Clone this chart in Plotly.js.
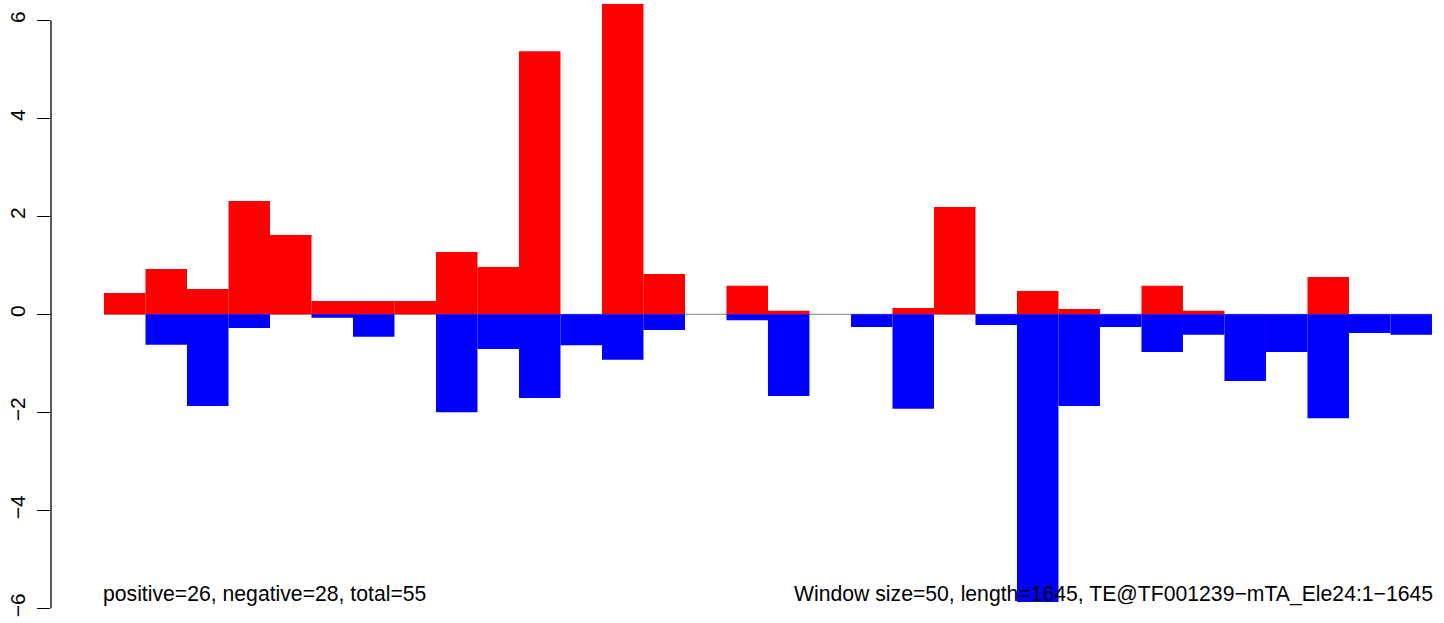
<!DOCTYPE html>
<html>
<head>
<meta charset="utf-8">
<script src="https://cdn.plot.ly/plotly-3.0.1.min.js"></script>
<style>html,body{margin:0;padding:0;background:#fff;}#chart{width:1444px;height:623px;}</style>
</head>
<body>
<div id="chart"></div>
<script>
// Window size and data
const windowSize = 50;
const seqLength = 1645;
const windowIndex = [1,2,3,4,5,6,7,8,9,10,11,12,13,14,15,16,17,18,19,20,21,22,23,24,25,26,27,28,29,30,31,32];
const positiveValues = [0.435, 0.925, 0.516, 2.31, 1.62, 0.27, 0.27, 0.27, 1.27, 0.965, 5.37, 0, 6.33, 0.82, 0, 0.58, 0.07, 0, 0, 0.13, 2.19, 0, 0.475, 0.108, 0, 0.58, 0.07, 0, 0, 0.76, 0, 0];
const negativeValues = [0, -0.62, -1.87, -0.28, 0, -0.07, -0.46, 0, -2.0, -0.71, -1.71, -0.63, -0.93, -0.32, 0, -0.12, -1.67, 0, -0.26, -1.93, 0, -0.22, -5.87, -1.87, -0.26, -0.77, -0.42, -1.36, -0.77, -2.12, -0.38, -0.42];
const yTickValues = [-6, -4, -2, 0, 2, 4, 6];
const yTickLabels = ['\u22126', '\u22124', '\u22122', '0', '2', '4', '6'];
const leftLabel = 'positive=26, negative=28, total=55';
const rightLabel = 'Window size=50, length=1645, TE@TF001239\u2212mTA_Ele24:1\u22121645';

const xCenters = windowIndex.map(i => (i - 0.5) * windowSize);
const xStart = 0, xEnd = windowIndex.length * windowSize;

const yMin = -6.30, yMax = 6.414;
const axisFrac = v => (v - yMin) / (yMax - yMin);

const font = {family: '"Liberation Sans", Arial, Helvetica, sans-serif', size: 21, color: '#000'};
const noteFont = {family: '"Liberation Sans", Arial, Helvetica, sans-serif', size: 21.2, color: '#000'};

const traces = [
  {type: 'bar', x: xCenters, y: positiveValues, width: windowSize,
   marker: {color: '#FF0000', line: {width: 0}}, hoverinfo: 'none'},
  {type: 'bar', x: xCenters, y: negativeValues, width: windowSize,
   marker: {color: '#0000FF', line: {width: 0}}, hoverinfo: 'none'}
];

const layout = {
  width: 1444, height: 623,
  margin: {l: 51, r: 0, t: 0, b: 0, pad: 0},
  paper_bgcolor: '#fff', plot_bgcolor: '#fff',
  showlegend: false,
  barmode: 'overlay',
  font: font,
  xaxis: {range: [-63.86, 1614.5], visible: false, fixedrange: true},
  yaxis: {
    range: [yMin, yMax], showgrid: false, zeroline: false, showline: false,
    tickmode: 'array', tickvals: yTickValues, ticktext: yTickLabels,
    ticks: 'outside', ticklen: 13, tickwidth: 1.3, tickcolor: '#000',
    tickangle: -90, tickfont: font, ticklabelstandoff: 4, fixedrange: true
  },
  shapes: [
    {type: 'line', xref: 'x', yref: 'y', x0: xStart, x1: xEnd, y0: 0, y1: 0,
     line: {color: '#808080', width: 1}, layer: 'below'},
    {type: 'line', xref: 'paper', yref: 'paper', x0: 0, x1: 0,
     y0: axisFrac(-6), y1: axisFrac(6), line: {color: '#000', width: 1.3}}
  ],
  annotations: [
    {xref: 'x', yref: 'paper', x: xStart, y: (623 - 594) / 623, text: leftLabel,
     showarrow: false, xanchor: 'left', yanchor: 'middle', font: noteFont, xshift: -2, borderpad: 0},
    {xref: 'x', yref: 'paper', x: xEnd, y: (623 - 594) / 623, text: rightLabel,
     showarrow: false, xanchor: 'right', yanchor: 'middle', font: noteFont, xshift: 2, borderpad: 0}
  ]
};

Plotly.newPlot('chart', traces, layout, {displayModeBar: false, staticPlot: true});
</script>
</body>
</html>
